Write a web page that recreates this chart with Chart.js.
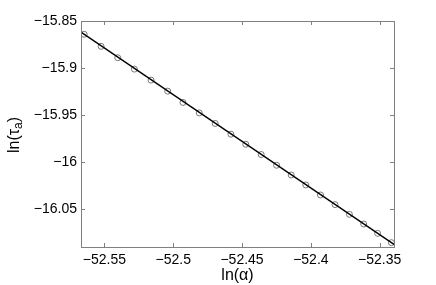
<!DOCTYPE html>
<html>
<head>
<meta charset="utf-8">
<script src="https://cdn.jsdelivr.net/npm/chart.js@4.4.1/dist/chart.umd.min.js"></script>
<style>
  html, body { margin: 0; padding: 0; background: #fff; }
  #wrap { width: 436px; height: 285px; }
</style>
</head>
<body>
<div id="wrap"><canvas id="myChart" width="436" height="285"></canvas></div>
<script>
// data
const lnAlpha = [-52.5647, -52.5524, -52.5403, -52.5282, -52.5161, -52.5040, -52.4929,
  -52.4811, -52.4695, -52.4581, -52.4473, -52.4361, -52.4249, -52.4143, -52.4037,
  -52.3930, -52.3824, -52.3720, -52.3616, -52.3515, -52.3415];
const lnTau = [-15.8641, -15.8769, -15.8890, -15.9011, -15.9128, -15.9245, -15.9365,
  -15.9476, -15.9588, -15.9702, -15.9809, -15.9918, -16.0032, -16.0135, -16.0241,
  -16.0348, -16.0450, -16.0553, -16.0656, -16.0755, -16.0854];

// fitted line, end to end of the x range
const fitX = [-52.567, -52.3396];
const fitY = [-15.8618, -16.0873];

const xTicks = [-52.55, -52.5, -52.45, -52.4, -52.35];
const yTicks = [-16.05, -16, -15.95, -15.9, -15.85];

const xLimits = [-52.567, -52.3396];
const yLimits = [-16.090, -15.85];

const axisGray = '#808080';
const fontFam = '"Liberation Sans", Arial, Helvetica, sans-serif';

function fmt(v) {
  return String(v).replace('-', '\u2212');
}

// MATLAB style box + inward ticks on all four sides
const boxTicks = {
  id: 'boxTicks',
  afterDraw(chart) {
    const ctx = chart.ctx;
    const a = chart.chartArea;
    const sx = chart.scales.x;
    const sy = chart.scales.y;
    const len = 4;
    ctx.save();
    ctx.strokeStyle = axisGray;
    ctx.lineWidth = 1;
    ctx.beginPath();
    xTicks.forEach(v => {
      const px = Math.round(sx.getPixelForValue(v)) + 0.5;
      ctx.moveTo(px, a.bottom); ctx.lineTo(px, a.bottom - len);
      ctx.moveTo(px, a.top); ctx.lineTo(px, a.top + len);
    });
    yTicks.forEach(v => {
      const py = Math.round(sy.getPixelForValue(v)) + 0.5;
      ctx.moveTo(a.left, py); ctx.lineTo(a.left + len, py);
      ctx.moveTo(a.right, py); ctx.lineTo(a.right - len, py);
    });
    ctx.stroke();
    ctx.strokeRect(Math.round(a.left) + 0.5, Math.round(a.top) + 0.5,
      Math.round(a.right - a.left), Math.round(a.bottom - a.top));
    ctx.restore();
  }
};

// y title with a real subscript: ln(tau_a)
const yTitle = {
  id: 'yTitle',
  afterDraw(chart) {
    const ctx = chart.ctx;
    const a = chart.chartArea;
    const big = '16px ' + fontFam;
    const small = '12px ' + fontFam;
    ctx.save();
    ctx.fillStyle = '#000';
    ctx.textBaseline = 'alphabetic';
    ctx.textAlign = 'left';
    ctx.font = big;
    const w1 = ctx.measureText('ln(\u03c4').width;
    const w3 = ctx.measureText(')').width;
    ctx.font = small;
    const w2 = ctx.measureText('a').width;
    const total = w1 + w2 + w3;
    ctx.translate(19, (a.top + a.bottom) / 2 + 1);
    ctx.rotate(-Math.PI / 2);
    let x = -total / 2;
    ctx.font = big;
    ctx.fillText('ln(\u03c4', x, 0);
    x += w1;
    ctx.font = small;
    ctx.fillText('a', x, 3);
    x += w2;
    ctx.font = big;
    ctx.fillText(')', x, 0);
    ctx.restore();
  }
};

const ctx = document.getElementById('myChart').getContext('2d');

const circlePoints = lnAlpha.map((v, i) => ({ x: v, y: lnTau[i] }));
const fitPoints = fitX.map((v, i) => ({ x: v, y: fitY[i] }));

let options = {
  type: 'scatter',
  data: {
    datasets: [
      {
        label: 'fit',
        data: fitPoints,
        showLine: true,
        borderColor: '#000',
        borderWidth: 1.4,
        pointRadius: 0,
        order: 0
      },
      {
        label: 'data',
        data: circlePoints,
        showLine: false,
        pointStyle: 'circle',
        pointRadius: 3,
        pointBorderWidth: 1,
        pointBorderColor: '#777',
        pointBackgroundColor: 'rgba(0,0,0,0)',
        order: 1
      }
    ]
  },
  options: {
    responsive: false,
    animation: false,
    events: [],
    layout: { padding: { left: 0, top: 21, right: 42, bottom: 0 } },
    plugins: {
      legend: { display: false },
      tooltip: { enabled: false }
    },
    scales: {
      x: {
        type: 'linear',
        min: xLimits[0],
        max: xLimits[1],
        grid: { display: false, drawTicks: false },
        border: { display: false },
        afterBuildTicks: axis => { axis.ticks = xTicks.map(v => ({ value: v })); },
        afterFit: axis => { axis.height = 38; },
        ticks: {
          autoSkip: false,
          maxRotation: 0,
          padding: 5,
          color: '#000',
          font: { family: fontFam, size: 14 },
          callback: v => fmt(v)
        },
        title: {
          display: true,
          text: 'ln(\u03b1)',
          color: '#000',
          font: { family: fontFam, size: 16 },
          padding: { top: 0, bottom: 0 }
        }
      },
      y: {
        type: 'linear',
        min: yLimits[0],
        max: yLimits[1],
        grid: { display: false, drawTicks: false },
        border: { display: false },
        afterBuildTicks: axis => { axis.ticks = yTicks.map(v => ({ value: v })); },
        afterFit: axis => { axis.width = 81; },
        ticks: {
          autoSkip: false,
          padding: 4,
          color: '#000',
          font: { family: fontFam, size: 14 },
          callback: v => fmt(v)
        }
      }
    }
  },
  plugins: [boxTicks, yTitle]
};

const myChart = new Chart(ctx, options);
</script>
</body>
</html>
